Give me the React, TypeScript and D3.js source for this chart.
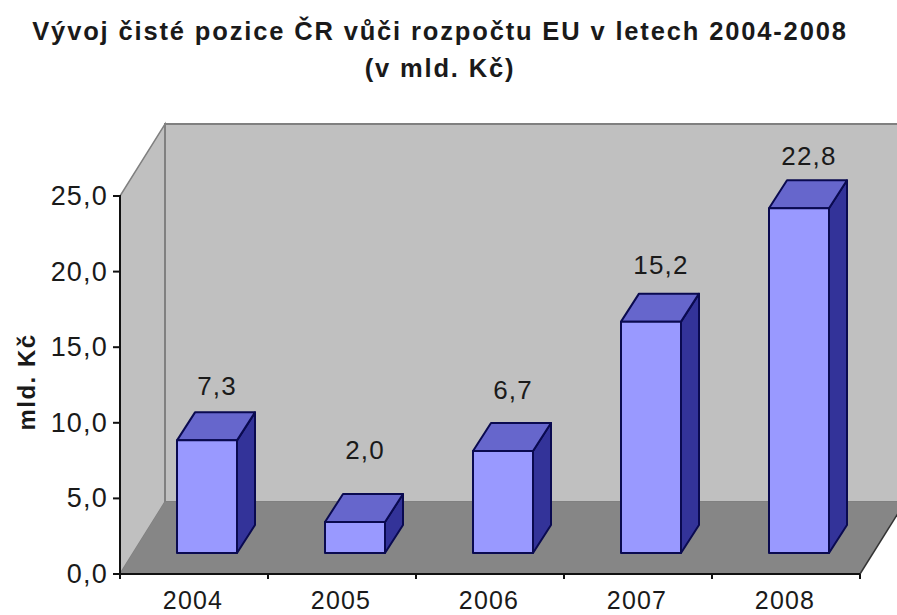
import React from "react";
import * as d3 from "d3";

const categories = ["2004", "2005", "2006", "2007", "2008"];
const barValues = [7.45, 2.05, 6.75, 15.3, 22.8];
const valueLabels = ["7,3", "2,0", "6,7", "15,2", "22,8"];
const yTicks = [0, 5, 10, 15, 20, 25];
const titleLines = ["Vývoj čisté pozice ČR vůči rozpočtu EU v letech 2004-2008", "(v mld. Kč)"];
const yAxisTitle = "mld. Kč";
const labelLift = [54, 72, 61, 57, 52];

const FONT = "'Liberation Sans', Arial, sans-serif";
const INK = "#1a1a1a";

export default function App() {
  const x = d3.scaleBand<string>().domain(categories).range([120, 860]);
  const y = d3.scaleLinear().domain([0, 25]).range([574, 196]);
  const wall = { dx: 45, dy: -72 };
  const front = { dx: 13, dy: -21 };
  const depth = { dx: 18, dy: -28 };
  const barW = 60;
  const x0 = x.range()[0];
  const x1 = x.range()[1];
  const y0 = y(0);
  const yT = y(25);
  const pts = (p: number[][]) => p.map((q) => q.join(",")).join(" ");
  const fmt = (v: number) => d3.format(".1f")(v).replace(".", ",");

  return (
    <svg width={897} height={615} style={{ position: "absolute", left: 0, top: 0, background: "#fff" }} fontFamily={FONT}>
      {titleLines.map((t, i) => (
        <text key={i} x={440} y={40 + i * 37} textAnchor="middle" fontSize={25.5} fontWeight="bold" fill={INK} letterSpacing={1.85}>
          {t}
        </text>
      ))}

      <polygon points={pts([[x0, y0], [x0 + wall.dx, y0 + wall.dy], [x0 + wall.dx, yT + wall.dy], [x0, yT]])} fill="#c0c0c0" stroke="#808080" strokeWidth={1.5} />
      <polygon points={pts([[x0 + wall.dx, y0 + wall.dy], [x1 + wall.dx, y0 + wall.dy], [x1 + wall.dx, yT + wall.dy], [x0 + wall.dx, yT + wall.dy]])} fill="#c0c0c0" stroke="#808080" strokeWidth={2} />
      <polygon points={pts([[x0, y0], [x0 + wall.dx, y0 + wall.dy], [x1 + wall.dx, y0 + wall.dy], [x1, y0]])} fill="#868686" />
      <line x1={x1} y1={y0} x2={x1 + wall.dx} y2={y0 + wall.dy} stroke="#333" strokeWidth={1.5} />

      {categories.map((c, i) => {
        const v = barValues[i];
        const cx = x(c)! + x.bandwidth() / 2 + front.dx;
        const l = cx - barW / 2;
        const r = cx + barW / 2;
        const b = y0 + front.dy;
        const t = y(v) + front.dy;
        return (
          <g key={c} stroke="#0a0a50" strokeWidth={2} strokeLinejoin="round">
            <polygon points={pts([[r, b], [r + depth.dx, b + depth.dy], [r + depth.dx, t + depth.dy], [r, t]])} fill="#333399" />
            <polygon points={pts([[l, t], [r, t], [r + depth.dx, t + depth.dy], [l + depth.dx, t + depth.dy]])} fill="#6666cc" />
            <rect x={l} y={t} width={barW} height={b - t} fill="#9999ff" />
            <text x={cx + 10} y={t - labelLift[i] + 9} textAnchor="middle" fontSize={26} fill={INK} stroke="none" letterSpacing={1.2}>
              {valueLabels[i]}
            </text>
          </g>
        );
      })}

      <g stroke="#111" strokeWidth={2}>
        <line x1={x0} y1={yT - 1} x2={x0} y2={y0 + 1} />
        <line x1={x0 - 1} y1={y0} x2={x1} y2={y0} />
        {yTicks.map((t) => (
          <line key={t} x1={x0 - 7} x2={x0} y1={y(t)} y2={y(t)} />
        ))}
        {[x0, ...categories.map((c) => x(c)! + x.bandwidth())].map((p) => (
          <line key={p} x1={p} x2={p} y1={y0} y2={y0 + 5} />
        ))}
      </g>

      {yTicks.map((t) => (
        <text key={t} x={108} y={y(t) + 9} textAnchor="end" fontSize={27} fill={INK} letterSpacing={1.2}>
          {fmt(t)}
        </text>
      ))}
      {categories.map((c) => (
        <text key={c} x={x(c)! + x.bandwidth() / 2 - 1} y={609} textAnchor="middle" fontSize={25} fill={INK} letterSpacing={1.2}>
          {c}
        </text>
      ))}
      <text transform="translate(35,382) rotate(-90)" textAnchor="middle" fontSize={24} fontWeight="bold" fill={INK} letterSpacing={1.5}>
        {yAxisTitle}
      </text>
    </svg>
  );
}
